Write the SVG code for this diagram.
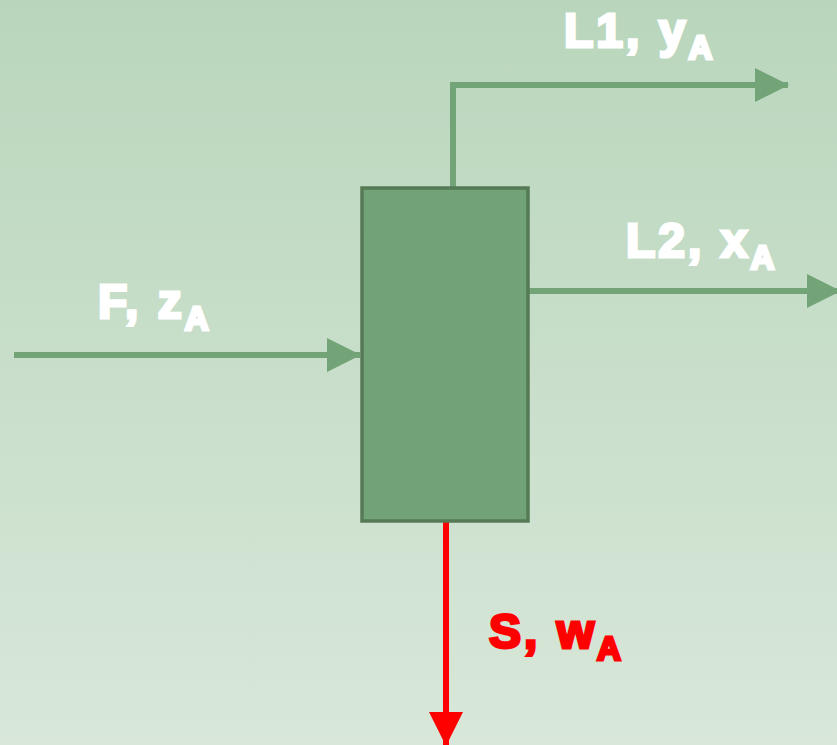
<svg xmlns="http://www.w3.org/2000/svg" width="837" height="745" viewBox="0 0 837 745">
<defs>
<linearGradient id="bg" x1="0" y1="0" x2="0" y2="1">
<stop offset="0" stop-color="#b9d6bc"/>
<stop offset="1" stop-color="#d8e7d9"/>
</linearGradient>
<marker id="ag" markerUnits="userSpaceOnUse" markerWidth="34" markerHeight="34" refX="33" refY="17" orient="auto" viewBox="0 0 34 34">
<path d="M0,0 L34,17 L0,34 Z" fill="#72a478"/>
</marker>
<marker id="ar" markerUnits="userSpaceOnUse" markerWidth="34" markerHeight="34" refX="33" refY="17" orient="auto" viewBox="0 0 34 34">
<path d="M0,0 L34,17 L0,34 Z" fill="#ff0000"/>
</marker>
</defs>
<style>
.g{fill:none;stroke:#72a478;stroke-width:6}
.r{fill:none;stroke:#ff0000;stroke-width:6}
.t{font-family:"Liberation Sans",Arial,sans-serif;font-weight:bold;font-size:48px;stroke-width:3;letter-spacing:3px}
.w{fill:#ffffff;stroke:#ffffff}
.red{fill:#ff0000;stroke:#ff0000}
.sub{font-size:33px}
</style>
<rect x="0" y="0" width="837" height="745" fill="url(#bg)"/>
<g id="connectors">
<path class="g" d="M453,188 V85 H788" marker-end="url(#ag)"/>
<path class="g" d="M528,291 H840" marker-end="url(#ag)"/>
<path class="g" d="M14,355 H360" marker-end="url(#ag)"/>
<path class="r" d="M446,521 V745" marker-end="url(#ar)"/>
</g>
<g id="unit">
<rect x="362" y="188" width="166" height="333" fill="#71a377" stroke="#557a55" stroke-width="3.5"/>
</g>
<g id="label-L1">
<text class="t w" x="564" y="47">L1, y<tspan class="sub" dy="12">A</tspan></text>
</g>
<g id="label-L2">
<text class="t w" x="626" y="257">L2, x<tspan class="sub" dy="12">A</tspan></text>
</g>
<g id="label-F">
<text class="t w" x="98" y="318">F, z<tspan class="sub" dy="12">A</tspan></text>
</g>
<g id="label-S">
<text class="t red" x="489" y="648">S, w<tspan class="sub" dy="12">A</tspan></text>
</g>
</svg>
